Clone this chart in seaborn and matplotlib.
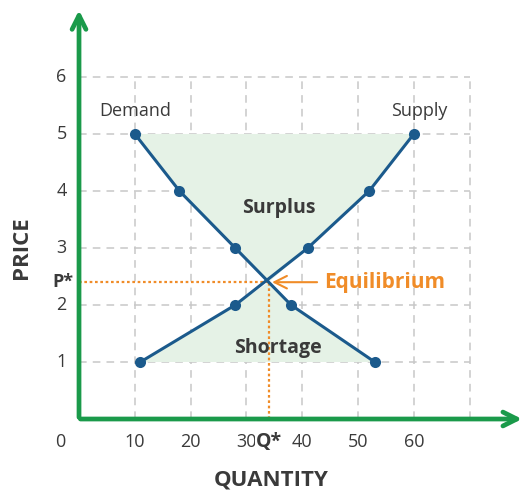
import numpy as np
import pandas as pd
import matplotlib.pyplot as plt
import seaborn as sns

# datos
demand_q = [10, 18, 28, 38, 53]
demand_p = [5, 4, 3, 2, 1]
supply_q = [11, 28, 41, 52, 60]
supply_p = [1, 2, 3, 4, 5]
eq_q, eq_p = 34, 2.4
x_ticks = [10, 20, 30, 40, 50, 60]
y_ticks = [1, 2, 3, 4, 5, 6]

sns.set_style("white")
plt.rcParams['font.family'] = ['Open Sans', 'DejaVu Sans']

green = '#1a9a4a'
blue = '#1b5a8c'
orange = '#f08c28'
grey = '#3a3a3a'
fill_col = '#e5f2e6'

df = pd.concat([
    pd.DataFrame({'Q': demand_q, 'P': demand_p, 'curve': 'Demand'}),
    pd.DataFrame({'Q': supply_q, 'P': supply_p, 'curve': 'Supply'}),
])

fig = plt.figure(figsize=(5.31, 4.95), dpi=100)
ax = fig.add_axes([0, 0, 1, 1])
ax.set_xlim(-14.16, 81.0)
ax.set_ylim(-1.333, 7.35)
ax.axis('off')

# rejilla discontinua hasta 70 / 6
ax.hlines(y_ticks, 0, 70, colors='#c8c8c8', linestyles=(0, (5, 4)), lw=1.1, zorder=0)
ax.vlines(x_ticks + [70], 0, 6, colors='#c8c8c8', linestyles=(0, (5, 4)), lw=1.1, zorder=0)

# zonas sombreadas (excedente y escasez)
dp = np.array(demand_p)
sp = np.array(supply_p)
dq = np.array(demand_q)
sq = np.array(supply_q)
up_x = [eq_q] + list(dq[dp > eq_p][::-1]) + list(sq[sp > eq_p][::-1])
up_y = [eq_p] + list(dp[dp > eq_p][::-1]) + list(sp[sp > eq_p][::-1])
lo_x = [eq_q] + list(sq[sp < eq_p][::-1]) + list(dq[dp < eq_p][::-1])
lo_y = [eq_p] + list(sp[sp < eq_p][::-1]) + list(dp[dp < eq_p][::-1])
ax.fill(up_x, up_y, color=fill_col, zorder=1, lw=0)
ax.fill(lo_x, lo_y, color=fill_col, zorder=1, lw=0)

# lineas de equilibrio
ax.plot([0, eq_q], [eq_p, eq_p], color=orange, ls=(0, (1.2, 1.2)), lw=1.6, zorder=2)
ax.plot([eq_q, eq_q], [0, eq_p], color=orange, ls=(0, (1.2, 1.2)), lw=1.6, zorder=2)

# curvas
sns.lineplot(data=df, x='Q', y='P', units='curve', estimator=None, sort=False,
             color=blue, lw=2.2, marker='o', markersize=8, markeredgewidth=0,
             ax=ax, zorder=3)

# ejes verdes con flecha
ax.annotate('', xy=(0, 7.22), xytext=(0, -0.02),
            arrowprops=dict(arrowstyle='->,head_length=1.0,head_width=0.5', color=green, lw=3.4), zorder=4)
ax.annotate('', xy=(79.9, 0), xytext=(-0.25, 0),
            arrowprops=dict(arrowstyle='->,head_length=1.0,head_width=0.5', color=green, lw=3.4), zorder=4)

# etiquetas de ticks
for t in x_ticks:
    ax.text(t, -0.4, str(t), ha='center', va='center', fontsize=13, color=grey)
ax.text(-3.4, -0.4, '0', ha='center', va='center', fontsize=13, color=grey)
for t in y_ticks:
    ax.text(-2.2, t, str(t), ha='right', va='center', fontsize=13, color=grey)
ax.text(-1.0, eq_p, 'P*', ha='right', va='center', fontsize=13, color=grey, fontweight='bold')
ax.text(eq_q, -0.4, 'Q*', ha='center', va='center', fontsize=14, color=grey, fontweight='bold',
        bbox=dict(facecolor='white', edgecolor='none', pad=0.3))

ax.text(-10.3, 3.0, 'PRICE', rotation=90, ha='center', va='center', fontsize=16,
        fontweight='bold', color=grey)
ax.text(34.5, -1.07, 'QUANTITY', ha='center', va='center', fontsize=16,
        fontweight='bold', color=grey)

ax.text(10.0, 5.4, 'Demand', ha='center', va='center', fontsize=13, color=grey)
ax.text(61.0, 5.4, 'Supply', ha='center', va='center', fontsize=13, color=grey)
ax.text(35.8, 3.7, 'Surplus', ha='center', va='center', fontsize=14, color=grey, fontweight='bold')
ax.text(35.6, 1.25, 'Shortage', ha='center', va='center', fontsize=14, color=grey, fontweight='bold')

ax.annotate('Equilibrium', xy=(eq_q + 0.6, eq_p), xytext=(44.0, eq_p),
            ha='left', va='center', fontsize=15, color=orange, fontweight='bold',
            arrowprops=dict(arrowstyle='->,head_length=0.6,head_width=0.3', color=orange, lw=1.5,
                            shrinkA=3, shrinkB=0))

plt.savefig('out.png', dpi=100)
